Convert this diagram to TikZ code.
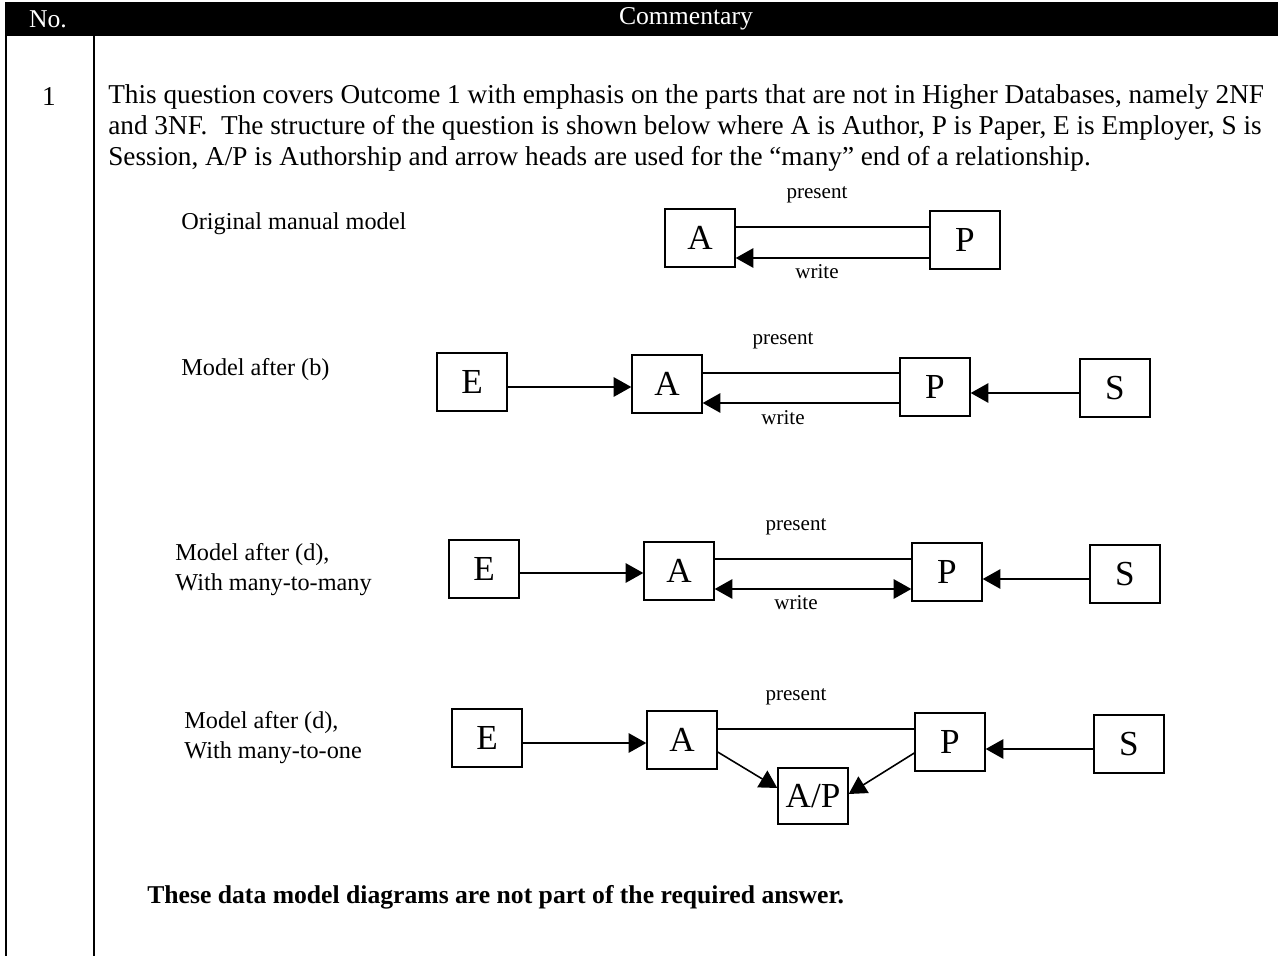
\documentclass[tikz,border=0pt]{standalone}
\usepackage{fontspec}
\setmainfont{Liberation Serif}
\usetikzlibrary{arrows.meta, positioning}

\begin{document}
\begin{tikzpicture}[
    x=0.02cm, y=-0.02cm,
    every node/.style = {font=\fontsize{13.8}{17}\selectfont},
    ent/.style = {
        draw, line width=0.8pt, inner sep=0pt,
        minimum width=1.4cm, minimum height=1.16cm,
        font=\fontsize{20}{23}\selectfont
    },
    link/.style = {line width=0.9pt},
    arr/.style = {link, -{Triangle[length=10pt,width=11pt]}},
    both/.style = {link, {Triangle[length=10pt,width=11pt]}-{Triangle[length=10pt,width=11pt]}},
    rel/.style = {font=\fontsize{12}{14}\selectfont},
    txt/.style = {anchor=west, inner sep=0pt},
    body/.style = {txt, font=\fontsize{15.5}{18}\selectfont},
    hdr/.style = {text=white, inner sep=0pt, font=\fontsize{14.6}{17}\selectfont}
]

\useasboundingbox (0,0) rectangle (1278,956);

%% Table frame and header row
\fill (5,2) rectangle (1278,36);
\node[hdr] (colno)  at (48,19)  {No.};
\node[hdr] (colcom) at (686,19) {Commentary};
\draw[line width=1.1pt] (6,36)  -- (6,956);
\draw[line width=1.1pt] (94,36) -- (94,956);

%% Commentary text
\node[inner sep=0pt, font=\fontsize{15.5}{18}\selectfont] (qno) at (49,97) {1};
\node[body] (para1) at (108,97)  {This question covers Outcome 1 with emphasis on the parts that are not in Higher Databases, namely 2NF};
\node[body] (para2) at (108,128) {and 3NF.\ \ The structure of the question is shown below where A is Author, P is Paper, E is Employer, S is};
\node[body] (para3) at (108,159) {Session, A/P is Authorship and arrow heads are used for the “many” end of a relationship.};

%% Row 1: original manual model
\node[txt] (lbl1) at (181,224) {Original manual model};
\node[ent] (A1) at (700,238) {A};
\node[ent] (P1) at (965,240) {P};
\node[rel] (pres1)  at (817,195) {present};
\node[rel] (write1) at (817,272) {write};
\draw[link] (A1.east |- 0,227) -- (P1.west |- 0,227);
\draw[arr]  (P1.west |- 0,258) -- (A1.east |- 0,258);

%% Row 2: model after (b)
\node[txt] (lbl2) at (181,370) {Model after (b)};
\node[ent] (E2) at (472,382) {E};
\node[ent] (A2) at (667,384) {A};
\node[ent] (P2) at (935,387) {P};
\node[ent] (S2) at (1115,388) {S};
\node[rel] (pres2)  at (783,341) {present};
\node[rel] (write2) at (783,418) {write};
\draw[arr]  (E2.east |- 0,387) -- (A2.west |- 0,387);
\draw[link] (A2.east |- 0,373) -- (P2.west |- 0,373);
\draw[arr]  (P2.west |- 0,403) -- (A2.east |- 0,403);
\draw[arr]  (S2.west |- 0,393) -- (P2.east |- 0,393);

%% Row 3: model after (d), many-to-many
\node[txt, align=left] (lbl3) at (175,570) {Model after (d),\\With many-to-many};
\node[ent] (E3) at (484,569) {E};
\node[ent] (A3) at (679,571) {A};
\node[ent] (P3) at (947,572) {P};
\node[ent] (S3) at (1125,574) {S};
\node[rel] (pres3)  at (796,527) {present};
\node[rel] (write3) at (796,603) {write};
\draw[arr]  (E3.east |- 0,573) -- (A3.west |- 0,573);
\draw[link] (A3.east |- 0,559) -- (P3.west |- 0,559);
\draw[both] (A3.east |- 0,589) -- (P3.west |- 0,589);
\draw[arr]  (S3.west |- 0,579) -- (P3.east |- 0,579);

%% Row 4: model after (d), many-to-one
\node[txt, align=left] (lbl4) at (184,738) {Model after (d),\\With many-to-one};
\node[ent] (E4) at (487,738) {E};
\node[ent] (A4) at (682,740) {A};
\node[ent] (P4) at (950,742) {P};
\node[ent] (S4) at (1129,744) {S};
\node[ent, minimum height=1.12cm] (AP4) at (813,796) {A/P};
\node[rel] (pres4) at (796,697) {present};
\draw[arr]  (E4.east |- 0,743) -- (A4.west |- 0,743);
\draw[link] (A4.east |- 0,729) -- (P4.west |- 0,729);
\draw[arr]  (A4.east |- 0,752) -- (AP4.west |- 0,788);
\draw[arr]  (P4.west |- 0,753) -- (AP4.east |- 0,794);
\draw[arr]  (S4.west |- 0,749) -- (P4.east |- 0,749);

%% Closing remark
\node[txt, font=\fontsize{14.6}{17}\selectfont\bfseries] (note) at (147,897) {These data model diagrams are not part of the required answer.};

\end{tikzpicture}
\end{document}
